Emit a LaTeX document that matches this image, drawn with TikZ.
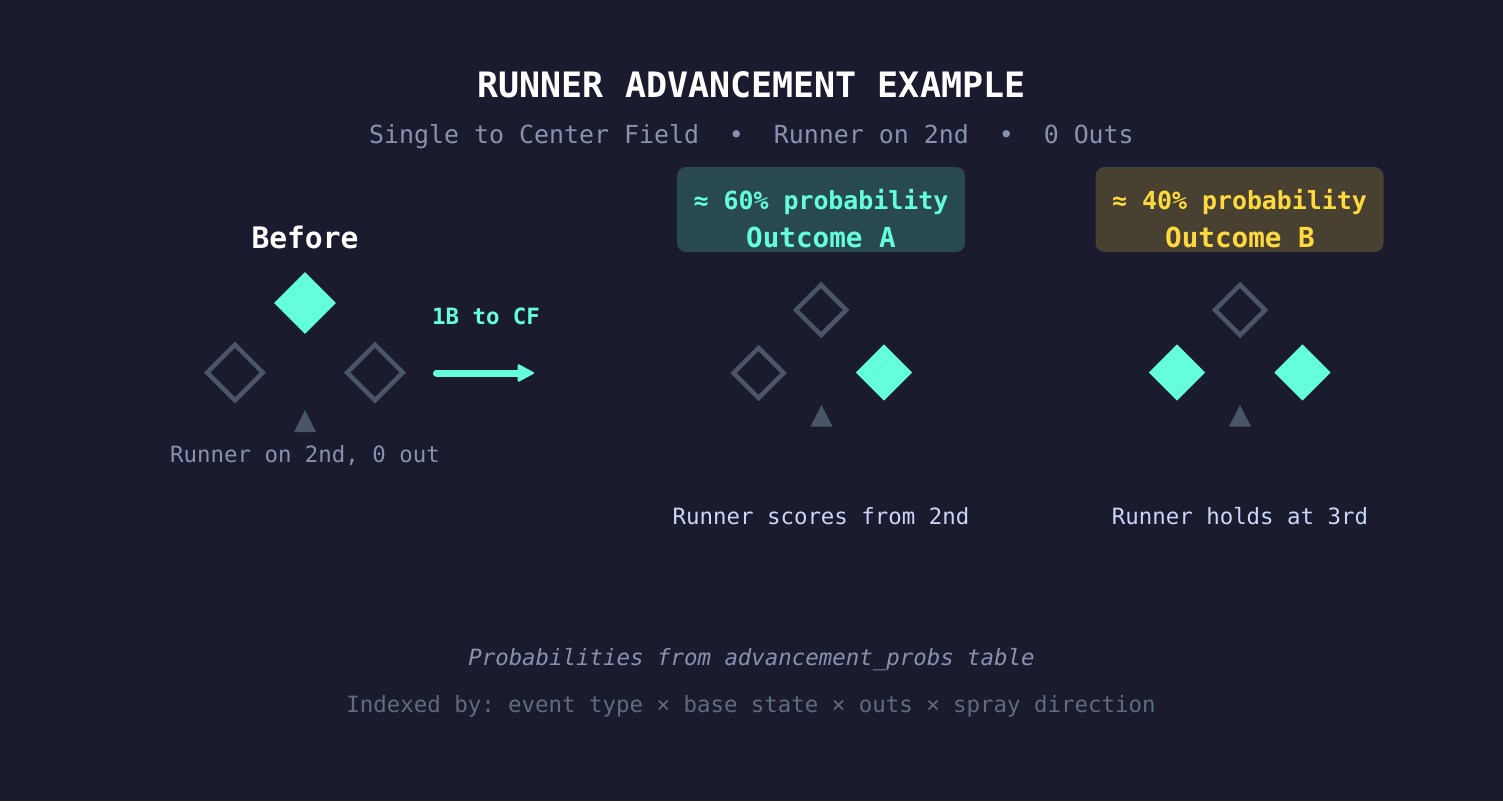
\documentclass[tikz,border=0pt]{standalone}
\usepackage{fontspec}
\setmainfont{DejaVu Sans Mono}
\usetikzlibrary{shapes.geometric,arrows.meta}
\definecolor{bg}{HTML}{1A1B2E}
\definecolor{teal}{HTML}{64FFDA}
\definecolor{basegray}{HTML}{4A5568}
\definecolor{subgray}{HTML}{8892B0}
\definecolor{lightt}{HTML}{CCD6F6}
\definecolor{dimgray}{HTML}{5F6B7E}
\definecolor{gold}{HTML}{FFD93D}
\definecolor{boxa}{HTML}{294950}
\definecolor{boxb}{HTML}{484131}
\newcommand{\fs}[1]{\fontsize{#1}{#1}\selectfont}
\frenchspacing
\tikzset{
  txt/.style={inner sep=0pt, anchor=base},
  basefull/.style={diamond, aspect=1, inner sep=0pt, fill=teal, minimum size=#1},
  baseempty/.style={diamond, aspect=1, inner sep=0pt, draw=basegray, line width=4.5pt, minimum size=#1},
  probbox/.style={rectangle, rounded corners=9pt, inner sep=0pt, minimum width=288pt, minimum height=85pt},
  homeplate/.style={fill=basegray},
}
\begin{document}
\begin{tikzpicture}[x=1pt,y=-1pt]
\fill[bg] (0,0) rectangle (1503,801);
\useasboundingbox (0,0) rectangle (1503,801);

% titles
\node[txt, text=white, font=\fs{35}\bfseries] (title) at (751.5,97) {RUNNER ADVANCEMENT EXAMPLE};
\node[txt, text=subgray, font=\fs{24.9}] (subtitle) at (751.5,143) {\frenchspacing Single to Center Field  \ •  \ Runner on 2nd  \ •  \ 0 Outs};

% Before
\node[txt, text=white, font=\fs{29.6}\bfseries] (before) at (305,248) {Before};
\node[basefull=62pt] (b2) at (305,303) {};
\node[baseempty=57.5pt] (b3) at (235,372.5) {};
\node[baseempty=57.5pt] (b1) at (375,372.5) {};
\fill[homeplate] (305,410) -- (316,432) -- (294,432) -- cycle;
\node[txt, text=subgray, font=\fs{22.4}] (bcap) at (305,462) {\frenchspacing Runner on 2nd, 0 out};

% arrow
\node[txt, text=teal, font=\fs{22.4}\bfseries] (alab) at (486,324) {1B to CF};
\coordinate (as) at (436.5,373);
\coordinate (hb) at (518.5,373);
\coordinate (ae) at (533,373);
\draw[teal, line width=7pt, line cap=round] (as) -- (hb);
\filldraw[teal, line width=2pt, line join=round] ([yshift=-7.8pt]hb) -- (ae) -- ([yshift=7.8pt]hb) -- cycle;

% Outcome A
\node[probbox, fill=boxa] (boxA) at (821,209.5) {};
\node[txt, text=teal, font=\fs{24.9}\bfseries] (pa) at (821,209) {≈ 60\% probability};
\node[txt, text=teal, font=\fs{27.6}\bfseries] (oa) at (821,247.5) {Outcome A};
\node[baseempty=52pt] (a2) at (821,310) {};
\node[baseempty=52pt] (a3) at (758.5,373) {};
\node[basefull=56.5pt] (a1) at (884,372.5) {};
\fill[homeplate] (821.5,405) -- (832.5,426.5) -- (810.5,426.5) -- cycle;
\node[txt, text=lightt, font=\fs{22.4}] (acap) at (821,524.5) {Runner scores from 2nd};

% Outcome B
\node[probbox, fill=boxb] (boxB) at (1239.5,209.5) {};
\node[txt, text=gold, font=\fs{24.9}\bfseries] (pb) at (1239.5,209) {≈ 40\% probability};
\node[txt, text=gold, font=\fs{27.6}\bfseries] (ob) at (1240,247.5) {Outcome B};
\node[baseempty=52pt] (c2) at (1240,310) {};
\node[basefull=56.5pt] (c3) at (1177,372.5) {};
\node[basefull=56.5pt] (c1) at (1302.5,372.5) {};
\fill[homeplate] (1240,405) -- (1251,426.5) -- (1229,426.5) -- cycle;
\node[txt, text=lightt, font=\fs{22.4}] (ccap) at (1240,524.5) {Runner holds at 3rd};

% footer
\node[txt, text=subgray, font=\fs{22.4}\itshape] (f1) at (751.5,665) {Probabilities from advancement\_probs table};
\node[txt, text=dimgray, font=\fs{22.4}] (f2) at (751,712) {\frenchspacing Indexed by: event type × base state × outs × spray direction};
\end{tikzpicture}
\end{document}
